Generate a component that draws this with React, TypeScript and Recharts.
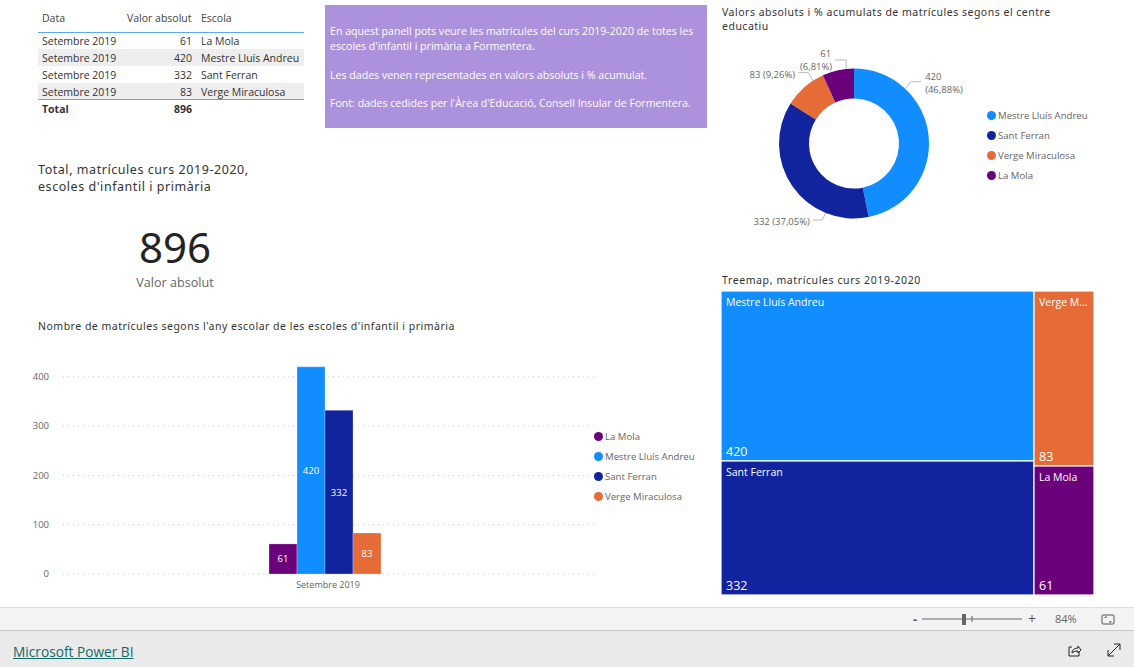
import { Bar, BarChart, CartesianGrid, Cell, LabelList, Legend, Pie, PieChart, Treemap, XAxis, YAxis } from "recharts";

const schools = ["La Mola", "Mestre Lluís Andreu", "Sant Ferran", "Verge Miraculosa"];
const values = [61, 420, 332, 83];
const total = 896;
const period = "Setembre 2019";
const yTicks = [0, 100, 200, 300, 400];
const pieOrder = ["Mestre Lluís Andreu", "Sant Ferran", "Verge Miraculosa", "La Mola"];
const tableColumns = ["Data", "Valor absolut", "Escola"];
const infoLines = [
  "En aquest panell pots veure les matrícules del curs 2019-2020 de totes les escoles d'infantil i primària a Formentera.",
  "Les dades venen representades en valors absoluts i % acumulat.",
  "Font: dades cedides per l'Àrea d'Educació, Consell Insular de Formentera.",
];

const colors: Record<string, string> = {
  "La Mola": "#6B007B",
  "Mestre Lluís Andreu": "#118DFF",
  "Sant Ferran": "#12239E",
  "Verge Miraculosa": "#E66C37",
};

const valueOf = (name: string) => values[schools.indexOf(name)];
const barData = [{ label: period, ...Object.fromEntries(schools.map((s, i) => [s, values[i]])) }];
const pieData = pieOrder.map((name) => ({ name, value: valueOf(name) }));

const BODY = "'Open Sans', 'Noto Sans', sans-serif";
const TITLE = "'Noto Sans', sans-serif";

const label = (left: number, top: number, extra: React.CSSProperties = {}): React.CSSProperties => ({
  position: "absolute",
  left,
  top,
  whiteSpace: "nowrap",
  ...extra,
});

function CircleLegend({ payload, gap, textGap }: any) {
  return (
    <div style={{ fontFamily: BODY, fontSize: 9.6, color: "#666" }}>
      {(payload ?? []).map((entry: any) => (
        <div key={entry.value} style={{ display: "flex", alignItems: "center", height: gap }}>
          <span style={{ width: 9, height: 9, borderRadius: 5, background: colors[entry.value], marginRight: textGap }} />
          {entry.value}
        </div>
      ))}
    </div>
  );
}

// the leader lines don't start at the slice's middle in the original, so each has its own angle
const pieLabelLayout: Record<string, any> = {
  "Mestre Lluís Andreu": { angle: 47, elbow: [6, -7], end: [16, -7], lines: ["420", "(46,88%)"], text: [20, -9], anchor: "start" },
  "Sant Ferran": { angle: 248, elbow: [-4, 7], end: [-13, 7], lines: ["332 (37,05%)"], text: [-16, 12], anchor: "end" },
  "Verge Miraculosa": { angle: 123, elbow: [-5, -8], end: [-15, -8], lines: ["83 (9,26%)"], text: [-18, -3], anchor: "end" },
  "La Mola": { angle: 96, elbow: [0, -9], end: [-11, -9], lines: ["61", "(6,81%)"], text: [-14, -12], anchor: "end" },
};

function PieOutsideLabel({ cx, cy, outerRadius, name }: any) {
  const l = pieLabelLayout[name];
  if (!l) return null;
  const rad = (-l.angle * Math.PI) / 180;
  const x = cx + outerRadius * Math.cos(rad);
  const y = cy + outerRadius * Math.sin(rad);
  return (
    <g>
      <polyline
        points={`${x},${y} ${x + l.elbow[0]},${y + l.elbow[1]} ${x + l.end[0]},${y + l.end[1]}`}
        fill="none"
        stroke="#bbb"
        strokeWidth={1}
      />
      <text x={x + l.text[0]} y={y + l.text[1]} textAnchor={l.anchor} fontFamily={BODY} fontSize={9.5} fill="#666">
        {l.lines.map((line: string, i: number) => (
          <tspan key={line} x={x + l.text[0] - (l.lines.length > 1 && i === 0 && l.anchor === "end" ? 1 : 0)} dy={i === 0 ? 0 : 13}>
            {line}
          </tspan>
        ))}
      </text>
    </g>
  );
}

function TreeCell({ x, y, width, height, name, value, depth }: any) {
  if (depth !== 1) return null;
  const big = width > 100;
  const title = big || name.length < 10 ? name : "Verge M...";
  return (
    <g>
      <rect x={x} y={y} width={width} height={height} fill={colors[name]} stroke="#fff" strokeWidth={1.2} />
      <text x={x + 5} y={y + 15} fontFamily={BODY} fontSize={10.5} fill="#fff" stroke="none">
        {title}
      </text>
      <text x={x + 5} y={y + height - 5} fontFamily={BODY} fontSize={12.5} fill="#fff" stroke="none">
        {value}
      </text>
    </g>
  );
}

function InfoTable() {
  const rowTops = [33, 50, 67, 84];
  return (
    <div style={{ fontFamily: BODY, fontSize: 10.5, color: "#333" }}>
      <div style={label(42, 11, { color: "#444" })}>{tableColumns[0]}</div>
      <div style={label(127, 11, { color: "#444" })}>{tableColumns[1]}</div>
      <div style={label(201, 11, { color: "#444" })}>{tableColumns[2]}</div>
      <div style={label(38, 32, { width: 266, height: 1, background: "#5AA9F5" })} />
      {schools.map((s, i) => (
        <div key={s}>
          {i % 2 === 1 && <div style={label(38, rowTops[i] - 1, { width: 266, height: 17, background: "#EEEEEE" })} />}
          <div style={label(42, rowTops[i] + 1)}>{period}</div>
          <div style={label(132, rowTops[i] + 1, { width: 60, textAlign: "right" })}>{values[i]}</div>
          <div style={label(201, rowTops[i] + 1)}>{s}</div>
        </div>
      ))}
      <div style={label(38, 99, { width: 266, height: 1, background: "#5AA9F5" })} />
      <div style={label(42, 102, { fontWeight: 700 })}>Total</div>
      <div style={label(132, 102, { width: 60, textAlign: "right", fontWeight: 700 })}>{total}</div>
    </div>
  );
}

function Footer() {
  return (
    <>
      <div style={label(0, 607, { width: 1134, height: 23, background: "#F3F3F3", borderTop: "1px solid #E0E0E0", boxSizing: "border-box" })} />
      <div style={label(0, 630, { width: 1134, height: 37, background: "#EAEAEA", borderTop: "1px solid #C8C8C8", boxSizing: "border-box" })} />
      <div style={label(13, 642, { fontFamily: BODY, fontSize: 13.7, color: "#0F6B6B", textDecoration: "underline" })}>Microsoft Power BI</div>
      <div style={label(913, 610, { fontFamily: BODY, fontSize: 13, fontWeight: 700, color: "#555" })}>-</div>
      <div style={label(1028, 609, { fontFamily: BODY, fontSize: 14, color: "#555" })}>+</div>
      <div style={label(1055, 611, { fontFamily: BODY, fontSize: 11, color: "#666" })}>84%</div>
      <svg style={label(0, 600)} width={1134} height={67}>
        <line x1={922} x2={1022} y1={19} y2={19} stroke="#666" />
        <line x1={972} x2={972} y1={16} y2={22} stroke="#666" />
        <rect x={962} y={14} width={4} height={11} fill="#666" />
        <rect x={1102} y={15} width={12} height={9} rx={1} fill="none" stroke="#555" />
        <path d="M1105 18v-1h2M1111 21v1h-2" fill="none" stroke="#555" />
        <path d="M1069 47h3M1069 47v9h10v-4M1072 53c0-3 3-5 6-5v-2l3 4-3 3v-2c-3 0-5 1-6 2" fill="none" stroke="#222" />
        <path d="M1108 56l12-12M1114 44h6v6M1108 50v6h6" fill="none" stroke="#222" />
      </svg>
    </>
  );
}

export default function App() {
  return (
    <div style={{ position: "absolute", left: 0, top: 0, width: 1134, height: 667, background: "#fff", overflow: "hidden" }}>
      <InfoTable />

      <div style={label(325, 5, { width: 382, height: 123, background: "#AC92DC", color: "#fff", fontFamily: BODY, fontSize: 10.6, lineHeight: "15px", whiteSpace: "normal", padding: "19px 5px 0", boxSizing: "border-box" })}>
        {infoLines.map((line) => (
          <div key={line} style={{ marginBottom: 13.5 }}>
            {line}
          </div>
        ))}
      </div>

      <div style={label(38, 161, { fontFamily: TITLE, fontSize: 12.5, letterSpacing: 0.55, lineHeight: "17px", color: "#333" })}>
        Total, matrícules curs 2019-2020,
        <br />
        escoles d'infantil i primària
      </div>
      <div style={label(75, 218, { width: 200, textAlign: "center", fontFamily: TITLE, fontSize: 42, lineHeight: "58px", color: "#252423" })}>{total}</div>
      <div style={label(75, 274, { width: 200, textAlign: "center", fontFamily: BODY, fontSize: 12.6, color: "#666" })}>Valor absolut</div>

      <div style={label(38, 319, { fontFamily: TITLE, fontSize: 10.5, letterSpacing: 0.5, color: "#333" })}>
        Nombre de matrícules segons l'any escolar de les escoles d'infantil i primària
      </div>
      <div style={label(0, 340)}>
        <BarChart width={720} height={264} data={barData} barSize={28} barGap={0} margin={{ top: 17, right: 125, bottom: 0, left: 20 }}>
          <CartesianGrid horizontal vertical={false} horizontalValues={yTicks} stroke="#CCCCCC" strokeDasharray="1 4" />
          <XAxis dataKey="label" axisLine={false} tickLine={false} padding={{ left: 0, right: 8 }} height={30} tick={{ fontSize: 9, fill: "#666", fontFamily: BODY, dx: 3 }} />
          <YAxis width={43} domain={[0, 440]} ticks={yTicks} axisLine={false} tickLine={false} tickMargin={8} tick={{ fontSize: 9.5, fill: "#666", fontFamily: BODY }} />
          <Legend layout="vertical" align="center" verticalAlign="middle" wrapperStyle={{ position: "absolute", left: 594, top: 86, width: 120 }} content={<CircleLegend gap={20} textGap={2} />} />
          {schools.map((s) => (
            <Bar key={s} dataKey={s} fill={colors[s]} stroke="#fff" strokeOpacity={0.25} isAnimationActive={false}>
              <LabelList dataKey={s} position="center" fill="#fff" stroke="none" fontSize={9.5} fontFamily={BODY} />
            </Bar>
          ))}
        </BarChart>
      </div>

      <div style={label(722, 5, { fontFamily: TITLE, fontSize: 10.5, letterSpacing: 0.5, lineHeight: "14px", color: "#333", width: 350, whiteSpace: "normal" })}>
        Valors absoluts i % acumulats de matrícules segons el centre educatiu
      </div>
      <div style={label(715, 0)}>
        <PieChart width={419} height={240} margin={{ top: 0, right: 0, bottom: 0, left: 0 }}>
          <Pie data={pieData} dataKey="value" nameKey="name" cx={139} cy={143.5} innerRadius={45} outerRadius={75} startAngle={90} endAngle={-270} stroke="none" isAnimationActive={false} label={<PieOutsideLabel />} labelLine={false}>
            {pieData.map((d) => (
              <Cell key={d.name} fill={colors[d.name]} />
            ))}
          </Pie>
          <Legend layout="vertical" align="center" verticalAlign="middle" itemSorter={null} wrapperStyle={{ position: "absolute", left: 272, top: 105, width: 140 }} content={<CircleLegend gap={20} textGap={2} />} />
        </PieChart>
      </div>

      <div style={label(722, 273, { fontFamily: TITLE, fontSize: 10.5, letterSpacing: 0.6, color: "#333" })}>Treemap, matrícules curs 2019-2020</div>
      <div style={label(721, 291)}>
        <Treemap width={373} height={304} data={pieData} dataKey="value" nameKey="name" content={<TreeCell />} isAnimationActive={false} />
      </div>

      <Footer />
    </div>
  );
}
